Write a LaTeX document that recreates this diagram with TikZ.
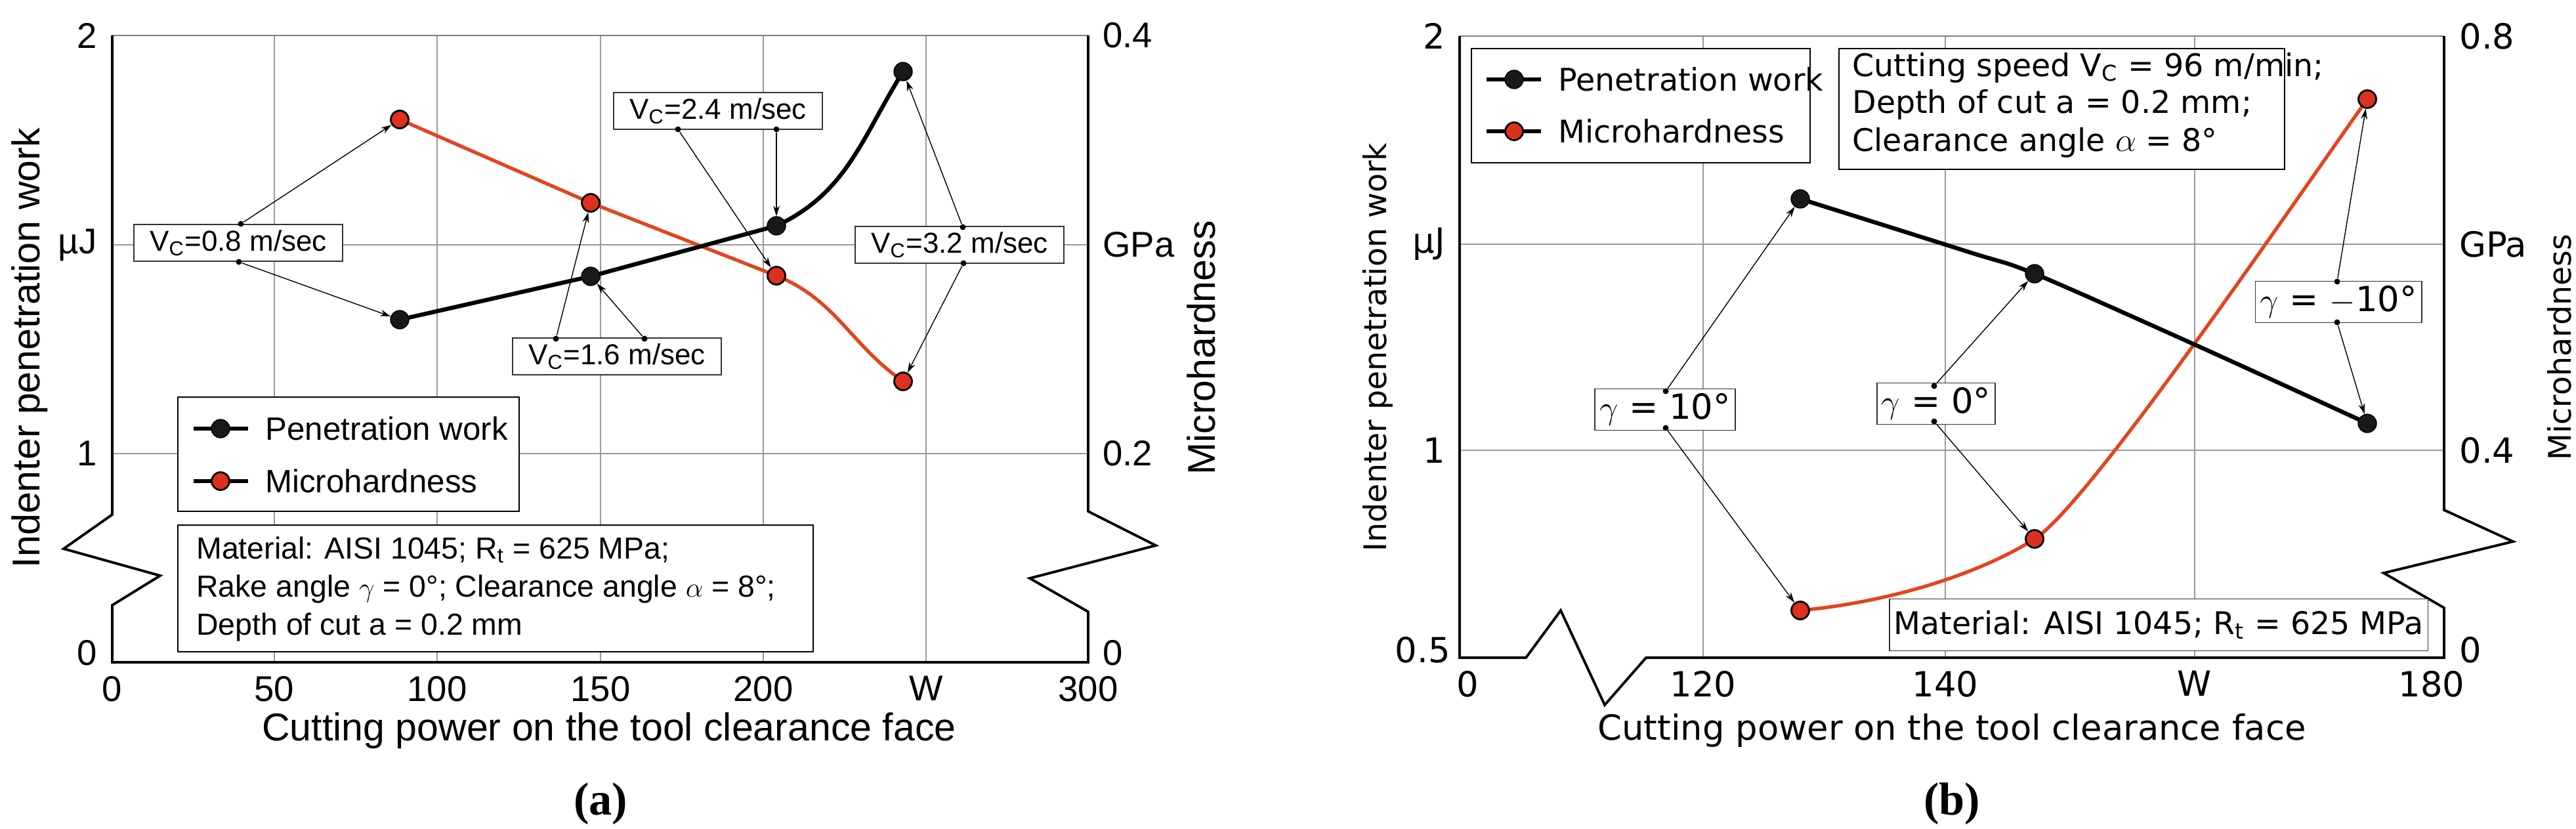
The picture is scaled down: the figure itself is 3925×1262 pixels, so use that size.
\documentclass[tikz,border=0pt]{standalone}
\usepackage{fontspec}
\setmainfont{Liberation Sans}
\newfontfamily\fa{Liberation Sans}
\newfontfamily\fb{DejaVu Sans}
\newfontfamily\fser{Liberation Serif}
\usetikzlibrary{arrows.meta}
\definecolor{redm}{RGB}{222,48,30}
\definecolor{redl}{RGB}{228,68,30}
\begin{document}
\begin{tikzpicture}[x=0.01cm,y=-0.01cm,
  grid/.style={gray!80,line width=0.5pt},
  ax/.style={black,line width=1.1pt},
  topax/.style={gray,line width=0.6pt},
  bk/.style={circle,fill=black!90,draw=black,inner sep=0pt,minimum size=28*0.01cm},
  rd/.style={circle,fill=redm,draw=black,line width=0.8pt,inner sep=0pt,minimum size=27*0.01cm},
  bline/.style={black,line width=1.8pt},
  rline/.style={redl,line width=1.5pt},
  lbl/.style={draw=black!80,fill=white,line width=0.5pt,inner sep=2pt},
  dot/.style={circle,fill=black,inner sep=0pt,minimum size=9*0.01cm},
  arr/.style={-{Stealth[length=1.6mm,width=1mm]},line width=0.4pt},
  ta/.style={font=\fa\fontsize{15.5}{18}\selectfont},
  tat/.style={font=\fa\fontsize{16.8}{19}\selectfont},
  tal/.style={font=\fa\fontsize{12.5}{15}\selectfont},
  tb/.style={font=\fb\fontsize{15}{17}\selectfont},
  tbt/.style={font=\fb\fontsize{13.5}{16}\selectfont},
]
\useasboundingbox (0,0) rectangle (3925,1262);
% ================= Panel (a) =================
\foreach \x in {418,666,915,1163,1411} \draw[grid] (\x,54) -- (\x,1009);
\foreach \y in {373,691} \draw[grid] (171,\y) -- (1658,\y);
\draw[topax] (171,54) -- (1658,54);
\draw[ax] (171,54) -- (171,784) -- (97,836) -- (244,877) -- (171,922) -- (171,1009) -- (1658,1009)
  -- (1658,932) -- (1569,881) -- (1761,831) -- (1658,779) -- (1658,54);
% tick labels
\node[ta,anchor=east] (ya2) at (160,54) {2};
\node[ta,anchor=east] (yamu) at (160,373) {µJ};
\node[ta,anchor=east] (ya1) at (160,691) {1};
\node[ta,anchor=east] (ya0) at (160,995) {0};
\foreach \x/\t [count=\i] in {171/0,418/50,666/100,915/150,1163/200,1411/W,1658/300}
  \node[ta,anchor=north] (xa\i) at (\x,1018) {\t};
\node[ta,anchor=west] (ra4) at (1668,54) {0.4};
\node[ta,anchor=west] (rag) at (1668,373) {GPa};
\node[ta,anchor=west] (ra2) at (1668,691) {0.2};
\node[ta,anchor=west] (ra0) at (1668,995) {0};
\node[tat] (xta) at (928,1113) {Cutting power on the tool clearance face};
\node[tat,rotate=90] (yta) at (45,530) {Indenter penetration work};
\node[tat,rotate=90] (yra) at (1830,530) {Microhardness};
\node[font=\fser\bfseries\fontsize{20}{22}\selectfont] (capa) at (915,1225) {(a)};
% data
\draw[rline] (609,182) -- (900,309) -- (1183,420) to[out=-22,in=145] (1376,581);
\draw[bline] (609,487) -- (900,421) -- (1183,344) to[out=25,in=238] (1376,109);
\node[rd] (ar1) at (609,182) {}; \node[rd] (ar2) at (900,309) {};
\node[rd] (ar3) at (1183,420) {}; \node[rd] (ar4) at (1376,581) {};
\node[bk] (ab1) at (609,487) {}; \node[bk] (ab2) at (900,421) {};
\node[bk] (ab3) at (1183,344) {}; \node[bk] (ab4) at (1376,109) {};
% labels
\node[lbl,tal,minimum width=318*0.01cm,minimum height=56*0.01cm] (la1) at (363,370) {V\textsubscript{C}=0.8 m/sec};
\node[lbl,tal,minimum width=318*0.01cm,minimum height=56*0.01cm] (la2) at (940,543) {V\textsubscript{C}=1.6 m/sec};
\node[lbl,tal,minimum width=318*0.01cm,minimum height=56*0.01cm] (la3) at (1094,169) {V\textsubscript{C}=2.4 m/sec};
\node[lbl,tal,minimum width=318*0.01cm,minimum height=56*0.01cm] (la4) at (1462,373) {V\textsubscript{C}=3.2 m/sec};
\node[dot] (d1a) at (367,341) {}; \node[dot] (d1b) at (364,399) {};
\node[dot] (d2a) at (847,516) {}; \node[dot] (d2b) at (982,516) {};
\node[dot] (d3a) at (1033,197) {}; \node[dot] (d3b) at (1183,197) {};
\node[dot] (d4a) at (1467,346) {}; \node[dot] (d4b) at (1468,401) {};
\draw[arr] (d1a) -- (ar1); \draw[arr] (d1b) -- (ab1);
\draw[arr] (d2a) -- (ar2); \draw[arr] (d2b) -- (ab2);
\draw[arr] (d3a) -- (ar3); \draw[arr] (d3b) -- (ab3);
\draw[arr] (d4a) -- (ab4); \draw[arr] (d4b) -- (ar4);
% legend
\draw[fill=white,line width=0.7pt] (271,605) rectangle (791,779);
\draw[line width=1.5pt] (295,653) -- (378,653); \node[bk] (lgab) at (336,653) {};
\draw[line width=1.5pt] (295,733) -- (378,733); \node[rd] (lgar) at (336,733) {};
\node[anchor=west,font=\fa\fontsize{14}{16}\selectfont] (lgat1) at (392,653) {Penetration work};
\node[anchor=west,font=\fa\fontsize{14}{16}\selectfont] (lgat2) at (392,733) {Microhardness};
% material box
\draw[fill=white,line width=0.7pt] (271,800) rectangle (1239,993);
\node[anchor=west,font=\fa\fontsize{13.2}{15}\selectfont] (ma1) at (287,838) {Material: AISI 1045; R\textsubscript{t} = 625 MPa;};
\node[anchor=west,font=\fa\fontsize{13.2}{15}\selectfont] (ma2) at (287,897) {Rake angle $\gamma$ = 0°; Clearance angle $\alpha$ = 8°;};
\node[anchor=west,font=\fa\fontsize{13.2}{15}\selectfont] (ma3) at (287,955) {Depth of cut a = 0.2 mm};
% ================= Panel (b) =================
\foreach \x in {2595,2964,3344} \draw[grid] (\x,55) -- (\x,1002);
\foreach \y in {372,686} \draw[grid] (2224,\y) -- (3724,\y);
\draw[topax] (2224,55) -- (3724,55);
\draw[ax] (2224,55) -- (2224,1002) -- (2325,1002) -- (2378,930) -- (2445,1074) -- (2508,1002) -- (3724,1002)
  -- (3724,926) -- (3632,873) -- (3829,825) -- (3724,777) -- (3724,55);
\node[tb,anchor=east] (yb2) at (2214,55) {2};
\node[tb,anchor=east] (ybmu) at (2214,372) {µJ};
\node[tb,anchor=east] (yb1) at (2214,686) {1};
\node[tb,anchor=east] (yb05) at (2222,990) {0.5};
\node[tb,anchor=north] (xb1) at (2236,1010) {0};
\node[tb,anchor=north] (xb2) at (2595,1010) {120};
\node[tb,anchor=north] (xb3) at (2964,1010) {140};
\node[tb,anchor=north] (xb4) at (3344,1010) {W};
\node[tb,anchor=north] (xb5) at (3705,1010) {180};
\node[tb,anchor=west] (rb8) at (3735,55) {0.8};
\node[tb,anchor=west] (rbg) at (3735,372) {GPa};
\node[tb,anchor=west] (rb4) at (3735,686) {0.4};
\node[tb,anchor=west] (rb0) at (3735,990) {0};
\node[tb] (xtb) at (2974,1113) {Cutting power on the tool clearance face};
\node[tbt,rotate=90] (ytb) at (2099,529) {Indenter penetration work};
\node[tbt,rotate=90] (yrb) at (3900,529) {Microhardness};
\node[font=\fser\bfseries\fontsize{20}{22}\selectfont] (capb) at (2974,1225) {(b)};
% data
\draw[rline] (2743,930) .. controls (2900,915) and (3030,866) .. (3100,821)
  .. controls (3180,771) and (3480,330) .. (3607,151);
\draw[bline] plot[smooth,tension=0.5] coordinates {(2743,303) (3000,384) (3100,417) (3344,525) (3607,645)};
\node[bk] (bb1) at (2743,303) {}; \node[bk] (bb2) at (3100,417) {}; \node[bk] (bb3) at (3607,645) {};
\node[rd] (br1) at (2743,930) {}; \node[rd] (br2) at (3100,821) {}; \node[rd] (br3) at (3607,151) {};
% labels
\node[lbl,tb,minimum width=169*0.01cm,minimum height=56*0.01cm] (lb1) at (2537,624) {$\gamma$ = 10°};
\node[lbl,tb,minimum width=143*0.01cm,minimum height=54*0.01cm] (lb2) at (2950,615) {$\gamma$ = 0°};
\node[lbl,tb,minimum width=215*0.01cm,minimum height=62*0.01cm] (lb3) at (3563,460) {$\gamma$ = $-$10°};
\node[dot] (e1a) at (2538,596) {}; \node[dot] (e1b) at (2538,652) {};
\node[dot] (e2a) at (2947,588) {}; \node[dot] (e2b) at (2947,642) {};
\node[dot] (e3a) at (3561,429) {}; \node[dot] (e3b) at (3561,491) {};
\draw[arr] (e1a) -- (bb1); \draw[arr] (e1b) -- (br1);
\draw[arr] (e2a) -- (bb2); \draw[arr] (e2b) -- (br2);
\draw[arr] (e3a) -- (br3); \draw[arr] (e3b) -- (bb3);
% legend
\draw[fill=white,line width=0.7pt] (2242,74) rectangle (2758,248);
\draw[line width=1.5pt] (2265,121) -- (2348,121); \node[bk] (lgbb) at (2307,121) {};
\draw[line width=1.5pt] (2265,200) -- (2348,200); \node[rd] (lgbr) at (2307,200) {};
\node[anchor=west,font=\fb\fontsize{13.5}{15}\selectfont] (lgbt1) at (2362,121) {Penetration work};
\node[anchor=west,font=\fb\fontsize{13.5}{15}\selectfont] (lgbt2) at (2362,200) {Microhardness};
% conditions box
\draw[fill=white,line width=0.7pt] (2802,74) rectangle (3481,258);
\node[anchor=west,font=\fb\fontsize{13.5}{15}\selectfont] (cb1) at (2810,103) {Cutting speed V\textsubscript{C} = 96 m/min;};
\node[anchor=west,font=\fb\fontsize{13.5}{15}\selectfont] (cb2) at (2810,159) {Depth of cut a = 0.2 mm;};
\node[anchor=west,font=\fb\fontsize{13.5}{15}\selectfont] (cb3) at (2810,217) {Clearance angle $\alpha$ = 8°};
% material box
\node[lbl,font=\fb\fontsize{13.5}{15}\selectfont,minimum width=786*0.01cm,minimum height=79*0.01cm] (mb) at (3289,952) {Material: AISI 1045; R\textsubscript{t} = 625 MPa};
\end{tikzpicture}
\end{document}
